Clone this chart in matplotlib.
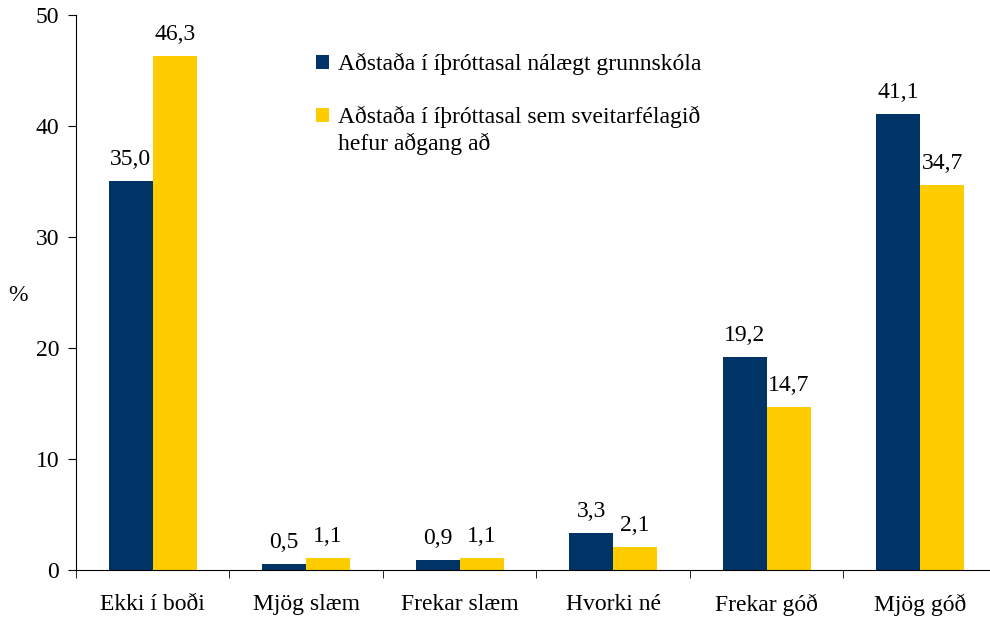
import matplotlib
matplotlib.use("Agg")
import matplotlib.pyplot as plt
import numpy as np

plt.rcParams['font.family'] = ['Liberation Serif', 'DejaVu Serif']

categories = ["Ekki í boði", "Mjög slæm", "Frekar slæm", "Hvorki né", "Frekar góð", "Mjög góð"]
grunnskoli = [35.0, 0.5, 0.9, 3.3, 19.2, 41.1]
sveitarfelag = [46.3, 1.1, 1.1, 2.1, 14.7, 34.7]
labels = ["Aðstaða í íþróttasal nálægt grunnskóla",
          "Aðstaða í íþróttasal sem sveitarfélagið"]
label2_line2 = "hefur aðgang að"

navy = "#003366"
yellow = "#FFCC00"
fs = 17

fig = plt.figure(figsize=(9.9, 6.19), dpi=100)
ax = fig.add_axes([0.0768, 0.0792, 0.930, 0.8966])

x = np.arange(len(categories))
w = 0.287
b1 = ax.bar(x - w/2, grunnskoli, w, color=navy, label=labels[0])
b2 = ax.bar(x + w/2, sveitarfelag, w, color=yellow, label=labels[1])

fmt = lambda v: f"{v:.1f}".replace(".", ",")
ax.bar_label(b1, labels=[fmt(v) for v in grunnskoli], padding=8, fontsize=fs)
ax.bar_label(b2, labels=[fmt(v) for v in sveitarfelag], padding=8, fontsize=fs)

ax.set_xlim(-0.5, len(categories) - 0.5)
ax.set_ylim(0, 50)
ax.set_yticks([0, 10, 20, 30, 40, 50])
ax.tick_params(axis='y', labelsize=fs, direction='out', length=6, pad=6)

ax.set_xticks(x)
ax.set_xticklabels(categories, fontsize=fs)
ax.tick_params(axis='x', length=0, pad=17)
ax.set_xticks(np.arange(len(categories) + 1) - 0.5, minor=True)
ax.tick_params(axis='x', which='minor', length=6, direction='out')

for s in ['top', 'right']:
    ax.spines[s].set_visible(False)
ax.spines['left'].set_linewidth(0.8)
ax.spines['bottom'].set_linewidth(0.8)

fig.text(0.018, 0.522, "%", fontsize=fs, ha='center', va='center')

leg = ax.legend(loc='upper left', bbox_to_anchor=(0.319, 0.914), bbox_transform=fig.transFigure,
                frameon=False, fontsize=fs, handlelength=0.55, handleheight=0.55,
                handletextpad=0.4, labelspacing=1.3, borderaxespad=0, borderpad=0)

# second line of the yellow legend entry, placed under its first line
fig.canvas.draw()
bb = leg.get_texts()[1].get_window_extent()
fig.text(bb.x0 / fig.bbox.width, (bb.y0 - 5) / fig.bbox.height, label2_line2,
         ha='left', va='top', fontsize=fs)

fig.savefig("out.png", dpi=100)
